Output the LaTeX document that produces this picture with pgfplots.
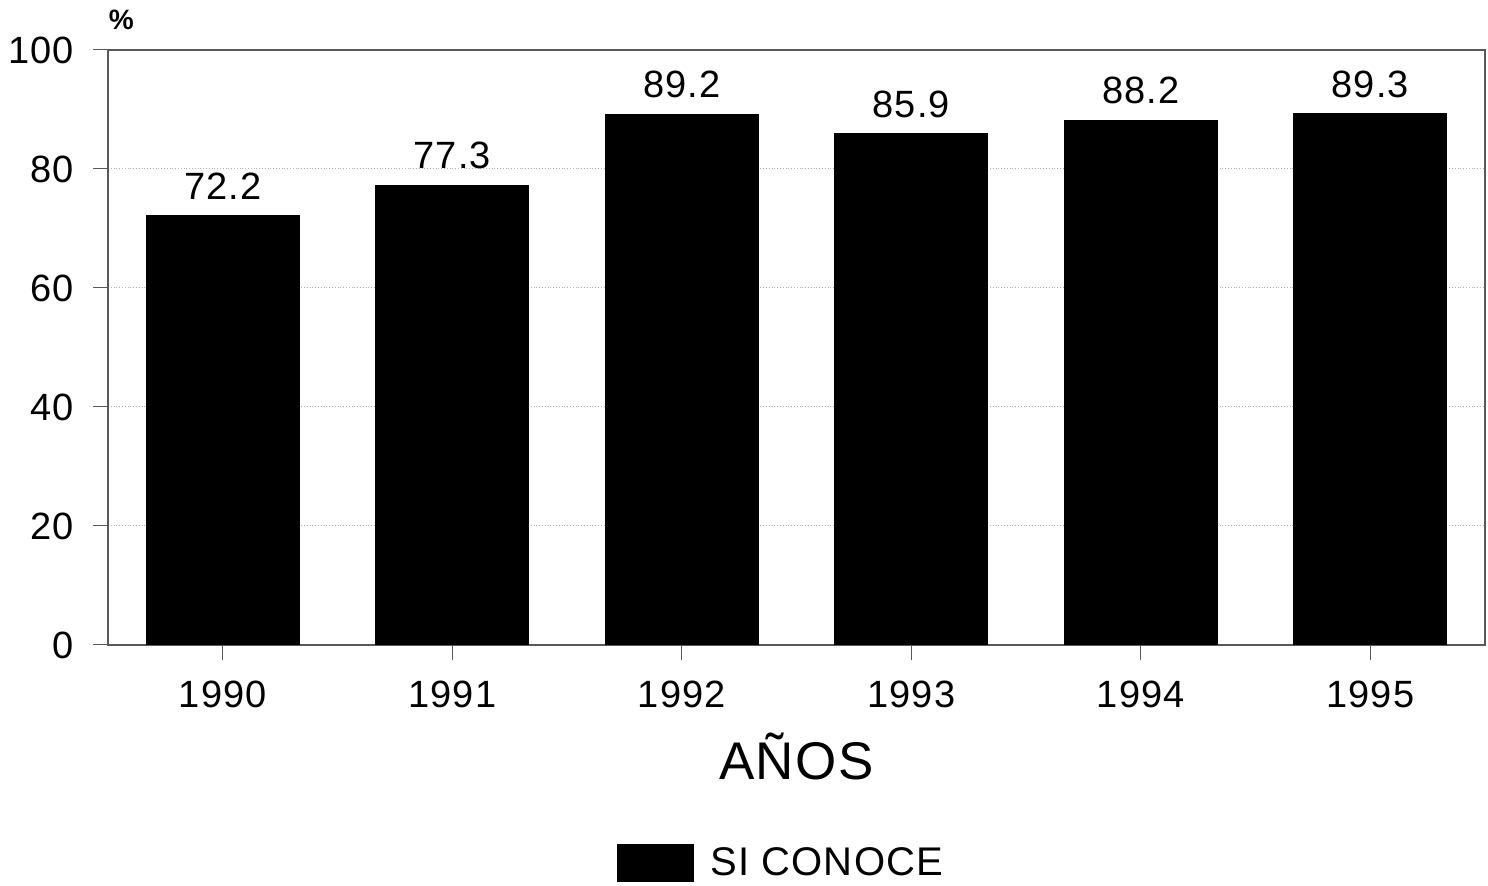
\documentclass[border=0pt]{standalone}
\usepackage{fontspec}
\setmainfont[LetterSpace=3]{Liberation Sans}
\usepackage{pgfplots}
\pgfplotsset{compat=1.18}
\begin{document}
\begin{tikzpicture}
\path[use as bounding box] (0pt,0pt) rectangle (744pt,443pt);
\begin{axis}[
  at={(54pt,120.5pt)}, anchor=south west,
  scale only axis,
  width=688.5pt, height=297.5pt,
  ybar, bar width=0.667,
  bar shift=0pt,
  xmin=-0.5, xmax=5.5,
  ymin=0, ymax=100,
  ytick={0,20,40,60,80,100},
  xtick={0,1,2,3,4,5},
  xticklabels={1990,1991,1992,1993,1994,1995},
  tick align=outside,
  major tick length=7.5pt,
  tick style={gray!70!black, line width=0.5pt},
  axis line style={gray!70!black, line width=0.6pt},
  xtick pos=bottom, ytick pos=left,
  ymajorgrids,
  grid style={densely dotted, gray!60, line width=0.5pt},
  /pgf/number format/assume math mode=true,
  ticklabel style={font=\fontsize{19}{22}\selectfont},
  yticklabel style={xshift=-6pt},
  xticklabel style={yshift=-7pt},
  xlabel={AÑOS},
  xlabel style={font=\fontsize{26.5}{30}\selectfont, at={(axis description cs:0.5,-0.188)}, anchor=center},
  ylabel={\textbf{\%}},
  ylabel style={font=\fontsize{14}{16}\selectfont, rotate=-90, at={(axis description cs:0.01,1.05)}, anchor=center},
  nodes near coords,
  nodes near coords style={font=\fontsize{19}{22}\selectfont, black, /pgf/number format/fixed, /pgf/number format/precision=1, /pgf/number format/fixed zerofill, /pgf/number format/assume math mode=true, yshift=4.5pt},
  legend style={at={(rel axis cs:0.3697,-0.333)}, anchor=north west, draw=none, font=\fontsize{20}{24}\selectfont, inner sep=0pt, column sep=6pt},
  legend image code/.code={\fill[black] (0pt,-9.25pt) rectangle (38pt,9.25pt);},
]
\addplot[fill=black, draw=black] coordinates {(0,72.2) (1,77.3) (2,89.2) (3,85.9) (4,88.2) (5,89.3)};
\addlegendentry{SI CONOCE}
\end{axis}
\end{tikzpicture}
\end{document}
